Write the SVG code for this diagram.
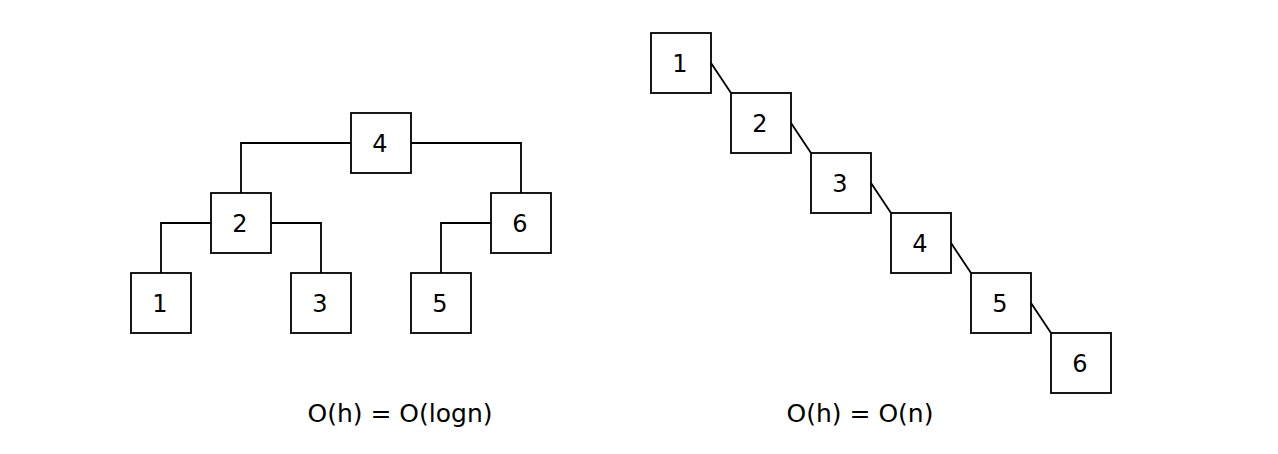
<svg xmlns="http://www.w3.org/2000/svg" width="1278" height="454" viewBox="0 0 1278 454">
<style>
.n rect{fill:#fff;stroke:#000;stroke-width:1.8}
.n text,.lbl{font-family:"DejaVu Sans",Verdana,sans-serif;font-size:24px;fill:#000;text-anchor:middle}
.lbl{font-size:25px}
.c path{fill:none;stroke:#000;stroke-width:1.8}
</style>
<rect width="1278" height="454" fill="#fff"/>
<g class="c" id="connectors">
<path d="M351 143H241V193"/>
<path d="M411 143H521V193"/>
<path d="M211 223H161V273"/>
<path d="M271 223H321V273"/>
<path d="M491 223H441V273"/>
<path d="M711 63L731 93"/>
<path d="M791 123L811 153"/>
<path d="M871 183L891 213"/>
<path d="M951 243L971 273"/>
<path d="M1031 303L1051 333"/>
</g>
<g class="n" id="l4"><rect x="351" y="113" width="60" height="60"/><text x="380" y="152">4</text></g>
<g class="n" id="l2"><rect x="211" y="193" width="60" height="60"/><text x="240" y="232">2</text></g>
<g class="n" id="l6"><rect x="491" y="193" width="60" height="60"/><text x="520" y="232">6</text></g>
<g class="n" id="l1"><rect x="131" y="273" width="60" height="60"/><text x="160" y="312">1</text></g>
<g class="n" id="l3"><rect x="291" y="273" width="60" height="60"/><text x="320" y="312">3</text></g>
<g class="n" id="l5"><rect x="411" y="273" width="60" height="60"/><text x="440" y="312">5</text></g>
<g class="n" id="r1"><rect x="651" y="33" width="60" height="60"/><text x="680" y="72">1</text></g>
<g class="n" id="r2"><rect x="731" y="93" width="60" height="60"/><text x="760" y="132">2</text></g>
<g class="n" id="r3"><rect x="811" y="153" width="60" height="60"/><text x="840" y="192">3</text></g>
<g class="n" id="r4"><rect x="891" y="213" width="60" height="60"/><text x="920" y="252">4</text></g>
<g class="n" id="r5"><rect x="971" y="273" width="60" height="60"/><text x="1000" y="312">5</text></g>
<g class="n" id="r6"><rect x="1051" y="333" width="60" height="60"/><text x="1080" y="372">6</text></g>
<text class="lbl" x="400" y="422">O(h) = O(logn)</text>
<text class="lbl" x="860" y="422">O(h) = O(n)</text>
</svg>
